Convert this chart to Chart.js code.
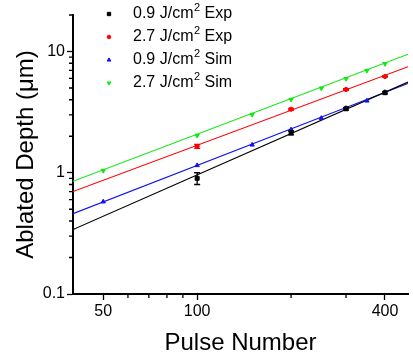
<!DOCTYPE html>
<html>
<head>
<meta charset="utf-8">
<script src="https://cdn.jsdelivr.net/npm/chart.js@4.4.0/dist/chart.umd.min.js"></script>
<style>
  html, body { margin: 0; padding: 0; background: #fff; overflow: hidden; }
  #wrap { width: 413px; height: 360px; }
</style>
</head>
<body>
<div id="wrap"><canvas id="chart" width="413" height="360"></canvas></div>
<script>
const pulsesExp = [100, 200, 300, 400];
const depthExp09 = [0.90, 2.13, 3.37, 4.57];
const errExp09 = [0.10, 0.08, 0.08, 0.09];
const depthExp27 = [1.65, 3.34, 4.86, 6.22];
const errExp27 = [0.06, 0.06, 0.07, 0.08];

const pulsesSim = [50, 100, 150, 200, 250, 300, 350, 400];
const depthSim09 = [0.577, 1.15, 1.70, 2.27, 2.82, 3.41, 3.92, 4.62];
const depthSim27 = [1.04, 2.03, 3.02, 4.02, 4.98, 5.96, 6.97, 7.92];

// Power-law fit lines, read at both ends of the axis
const fitPulses = [40, 474];
const fitExp09 = [0.34, 5.6];
const fitExp27 = [0.70, 7.5];
const fitSim09 = [0.46, 5.45];
const fitSim27 = [0.85, 9.5];

const labels = ['0.9 J/cm|2| Exp', '2.7 J/cm|2| Exp', '0.9 J/cm|2| Sim', '2.7 J/cm|2| Sim'];
const colors = ['#000000', '#ff0000', '#1010f0', '#10e810'];

// Axis ticks
const xTicks = [50, 60, 70, 80, 90, 100, 200, 300, 400];
const xTickLabels = [50, 100, 400];
const yTicks = [0.1, 0.2, 0.3, 0.4, 0.5, 0.6, 0.7, 0.8, 0.9, 1, 2, 3, 4, 5, 6, 7, 8, 9, 10, 20];
const yTickLabels = [0.1, 1, 10];

const FONT = "'Liberation Sans', Arial, Helvetica, sans-serif";

const pts = (xs, ys) => xs.map((x, i) => ({ x, y: ys[i] }));

const fitLine = (ys, color) => ({
    type: 'line',
    data: pts(fitPulses, ys),
    borderColor: color,
    borderWidth: 1.1,
    pointRadius: 0,
    order: 2
});

const markers = (xs, ys, i, style, radius, extra) => ({
    type: 'scatter',
    label: labels[i],
    legend: true,
    data: pts(xs, ys),
    pointStyle: style,
    pointRadius: radius,
    backgroundColor: colors[i],
    borderColor: colors[i],
    borderWidth: 1,
    order: 1,
    ...extra
});

// Error bars drawn from the dataset's own scale
const errorBarPlugin = {
    id: 'errorBars',
    afterDatasetsDraw(chart) {
        const { ctx } = chart;
        const y = chart.scales.y;
        chart.data.datasets.forEach((ds, di) => {
            if (!ds.errorBars) return;
            const meta = chart.getDatasetMeta(di);
            ctx.save();
            ctx.strokeStyle = ds.borderColor;
            ctx.lineWidth = 1.3;
            meta.data.forEach((el, i) => {
                const v = ds.data[i].y;
                const e = ds.errorBars[i];
                const top = y.getPixelForValue(v + e);
                const bot = y.getPixelForValue(v - e);
                ctx.beginPath();
                ctx.moveTo(el.x, top); ctx.lineTo(el.x, bot);
                ctx.moveTo(el.x - 3, top); ctx.lineTo(el.x + 3, top);
                ctx.moveTo(el.x - 3, bot); ctx.lineTo(el.x + 3, bot);
                ctx.stroke();
            });
            ctx.restore();
        });
    }
};

// Short minor ticks (the labelled ones come from the grid)
const minorTickPlugin = {
    id: 'minorTicks',
    afterDraw(chart) {
        const { ctx } = chart;
        const { x, y } = chart.scales;
        ctx.save();
        ctx.strokeStyle = '#000';
        ctx.lineWidth = 1.3;
        ctx.beginPath();
        xTicks.filter(v => !xTickLabels.includes(v)).forEach(v => {
            const px = x.getPixelForValue(v);
            ctx.moveTo(px, y.bottom); ctx.lineTo(px, y.bottom + 4);
        });
        yTicks.filter(v => !yTickLabels.includes(v)).forEach(v => {
            const py = y.getPixelForValue(v);
            ctx.moveTo(x.left, py); ctx.lineTo(x.left - 4, py);
        });
        ctx.stroke();
        ctx.restore();
    }
};

// Legend inside the plot, top-left, with a superscript
const legendPlugin = {
    id: 'insideLegend',
    afterDraw(chart) {
        const { ctx } = chart;
        const items = chart.data.datasets.filter(ds => ds.legend);
        ctx.save();
        ctx.textBaseline = 'middle';
        items.forEach((ds, i) => {
            const cy = 14 + i * 23;
            ctx.fillStyle = ds.backgroundColor;
            ctx.strokeStyle = ds.borderColor;
            ctx.lineWidth = 1;
            Chart.helpers.drawPoint(ctx, {
                pointStyle: ds.pointStyle,
                radius: ds.pointRadius * 0.85,
                rotation: ds.rotation || 0,
                borderWidth: 1
            }, 109, cy);
            const [pre, sup, post] = ds.label.split('|');
            let tx = 133;
            ctx.fillStyle = '#000';
            ctx.font = `16px ${FONT}`;
            ctx.fillText(pre, tx, cy);
            tx += ctx.measureText(pre).width + 0.5;
            ctx.font = `11px ${FONT}`;
            ctx.fillText(sup, tx, cy - 6);
            tx += ctx.measureText(sup).width;
            ctx.font = `16px ${FONT}`;
            ctx.fillText(post, tx, cy);
        });
        ctx.restore();
    }
};

new Chart(document.getElementById('chart'), {
    data: {
        datasets: [
            markers(pulsesExp, depthExp09, 0, 'rect', 2.8, { errorBars: errExp09 }),
            markers(pulsesExp, depthExp27, 1, 'circle', 2.1, { errorBars: errExp27 }),
            markers(pulsesSim, depthSim09, 2, 'triangle', 2.5, {}),
            markers(pulsesSim, depthSim27, 3, 'triangle', 2.5, { rotation: 180 }),
            fitLine(fitExp09, colors[0]),
            fitLine(fitExp27, colors[1]),
            fitLine(fitSim09, colors[2]),
            fitLine(fitSim27, colors[3])
        ]
    },
    options: {
        responsive: false,
        animation: false,
        devicePixelRatio: 1,
        layout: { padding: { top: 15, right: 0, left: 0, bottom: 0 } },
        plugins: {
            legend: { display: false },
            tooltip: { enabled: false }
        },
        scales: {
            x: {
                type: 'logarithmic',
                min: 40,
                max: 474,
                afterBuildTicks: s => { s.ticks = xTicks.map(v => ({ value: v })); },
                afterFit: s => { s.height = 66; },
                ticks: {
                    autoSkip: false,
                    maxRotation: 0,
                    padding: 2,
                    color: '#000',
                    font: { family: FONT, size: 16 },
                    callback: v => xTickLabels.includes(v) ? String(v) : ''
                },
                grid: {
                    drawOnChartArea: false,
                    tickLength: 6,
                    tickWidth: 1.3,
                    tickColor: c => xTickLabels.includes(c.tick.value) ? '#000' : 'rgba(0,0,0,0)'
                },
                border: { display: true, color: '#000', width: 2 },
                title: {
                    display: true,
                    text: 'Pulse Number',
                    color: '#000',
                    font: { family: FONT, size: 24 },
                    padding: { top: 0, bottom: 2 }
                }
            },
            y: {
                type: 'logarithmic',
                min: 0.1,
                max: 20,
                afterBuildTicks: s => { s.ticks = yTicks.map(v => ({ value: v })); },
                afterFit: s => { s.width = 73; },
                ticks: {
                    autoSkip: false,
                    padding: 2,
                    color: '#000',
                    font: { family: FONT, size: 16 },
                    callback: v => yTickLabels.includes(v) ? String(v) : ''
                },
                grid: {
                    drawOnChartArea: false,
                    tickLength: 6,
                    tickWidth: 1.3,
                    tickColor: c => yTickLabels.includes(c.tick.value) ? '#000' : 'rgba(0,0,0,0)'
                },
                border: { display: true, color: '#000', width: 2 },
                title: {
                    display: true,
                    text: 'Ablated Depth (μm)',
                    color: '#000',
                    font: { family: FONT, size: 24 },
                    padding: { top: 12, bottom: 0 }
                }
            }
        }
    },
    plugins: [errorBarPlugin, minorTickPlugin, legendPlugin]
});
</script>
</body>
</html>
